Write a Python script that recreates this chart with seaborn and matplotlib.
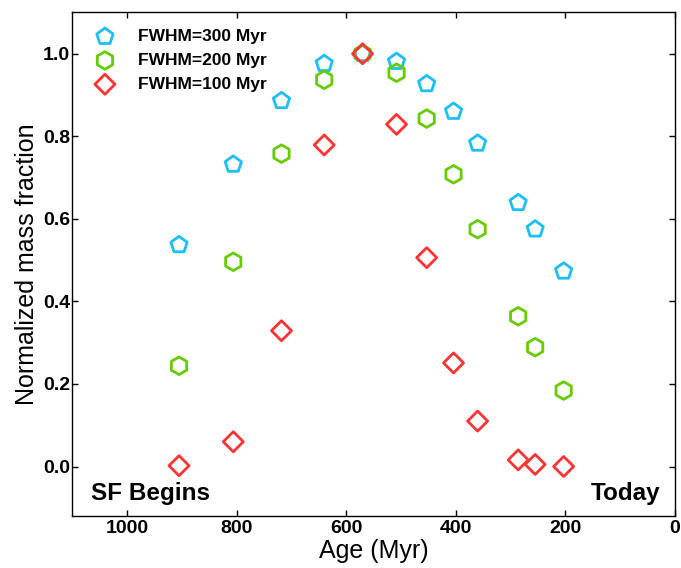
import matplotlib
matplotlib.use("Agg")
import matplotlib.pyplot as plt
import seaborn as sns
import pandas as pd

# Ages of the sampled epochs (Myr)
age = [905, 806, 718, 640, 570, 508, 453, 404, 360, 286, 255, 203]

# Normalized mass fraction for each burst width
fwhm300 = [0.537, 0.732, 0.886, 0.976, 1.000, 0.981, 0.927, 0.860, 0.783, 0.639, 0.575, 0.473]
fwhm200 = [0.244, 0.496, 0.758, 0.937, 1.000, 0.954, 0.843, 0.708, 0.575, 0.364, 0.289, 0.184]
fwhm100 = [0.002, 0.060, 0.329, 0.779, 1.000, 0.829, 0.506, 0.251, 0.110, 0.016, 0.005, 0.000]

labels = ["FWHM=300 Myr", "FWHM=200 Myr", "FWHM=100 Myr"]
colors = ["#19BFF5", "#66CC00", "#FF3333"]
markers = ["p", "h", "D"]
msizes = [12.3, 12.7, 10.2]

xticks = [1000, 800, 600, 400, 200, 0]
yticks = [0.0, 0.2, 0.4, 0.6, 0.8, 1.0]

sns.set_style("ticks")
plt.rcParams["font.family"] = ["Liberation Sans", "DejaVu Sans"]
plt.rcParams["text.color"] = "black"
plt.rcParams["axes.labelcolor"] = "black"
plt.rcParams["xtick.color"] = "black"
plt.rcParams["ytick.color"] = "black"

fig = plt.figure(figsize=(6.81, 5.68), dpi=100)
ax = fig.add_axes([0.106, 0.0915, 0.885, 0.8865])

for vals, lab, col, mk, ms in zip([fwhm300, fwhm200, fwhm100], labels, colors, markers, msizes):
    df = pd.DataFrame({"age": age, "frac": vals})
    sns.scatterplot(data=df, x="age", y="frac", ax=ax, marker=mk, s=ms ** 2,
                    facecolors="none", edgecolor=col, linewidth=2.0, label=lab, zorder=3)

ax.set_xlim(1100, 0)
ax.set_ylim(-0.12, 1.1)
ax.set_xticks(xticks)
ax.set_yticks(yticks)
ax.set_xticklabels([str(t) for t in xticks], fontsize=14, fontweight="bold")
ax.set_yticklabels([f"{t:.1f}" for t in yticks], fontsize=14, fontweight="bold")
ax.tick_params(direction="in", top=True, right=True, length=4, width=1, colors="black")
ax.tick_params(axis="x", pad=3)
ax.tick_params(axis="y", pad=1.5)
for sp in ax.spines.values():
    sp.set_visible(True)
    sp.set_linewidth(1.0)
    sp.set_color("black")

ax.set_xlabel("Age (Myr)", fontsize=18, labelpad=1)
ax.set_ylabel("Normalized mass fraction", fontsize=18, labelpad=3)

ax.text(1066, -0.08, "SF Begins", fontsize=17.5, fontweight="bold", ha="left", va="baseline")
ax.text(27, -0.08, "Today", fontsize=17.5, fontweight="bold", ha="right", va="baseline")

leg = ax.legend(loc="upper left", frameon=False, prop={"weight": "bold", "size": 12.5},
                handletextpad=0.9, labelspacing=0.5, borderaxespad=0.0,
                bbox_to_anchor=(0.014, 0.981))
for t in leg.get_texts():
    t.set_color("black")

fig.savefig("out.png", dpi=100)
